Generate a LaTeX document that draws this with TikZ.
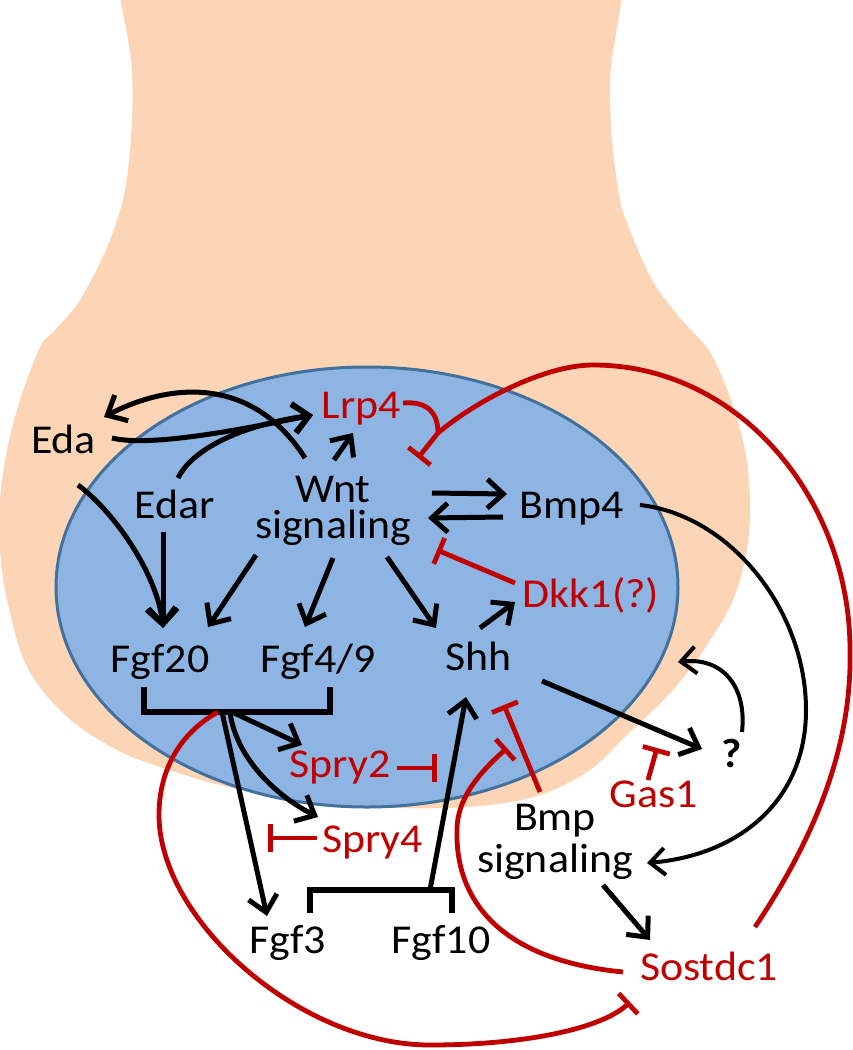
\documentclass[tikz,border=0pt]{standalone}
\usepackage{fontspec}
\setmainfont{Carlito}[FakeStretch=1.07]
\usetikzlibrary{arrows.meta,calc}
\definecolor{dkred}{RGB}{192,0,0}
\definecolor{peach}{RGB}{251,213,181}
\definecolor{epiblue}{RGB}{142,180,227}
\definecolor{epiline}{RGB}{65,113,156}
\begin{document}
\begin{tikzpicture}[x=1pt,y=-1pt,
	every node/.style={anchor=base,inner sep=1pt,font=\fontsize{41}{49}\selectfont},
	gene/.style={text=black},
	antag/.style={text=dkred},
	act/.style={-{Straight Barb[length=16pt,width=29pt]},line width=5pt},
	thinact/.style={-{Straight Barb[length=15pt,width=27pt]},line width=4pt},
	block/.style={dkred,-{Bar[width=28pt]},line width=4.8pt},
	redline/.style={dkred,line width=4.8pt},
	bracket/.style={line width=6pt}]
\useasboundingbox (0,0) rectangle (853,1050);
% tissue
\fill[peach] plot[smooth,tension=0.55] coordinates {(120,-2) (131,60) (132,120) (125,190) (108,245)
	(80,300) (55,330) (40,347) (20,400) (7,450) (0,500) (0,550) (7,600) (27,667) (67,717) (117,750)
	(160,767) (220,785) (300,800) (400,808) (480,806) (540,795) (590,770) (627,735) (673,690)
	(707,645) (733,600) (747,550) (750,500) (745,450) (731,400) (710,352) (680,318) (652,280)
	(630,230) (620,200) (612,140) (610,80) (615,40) (622,-2)} -- cycle;
\draw[fill=epiblue,draw=epiline,line width=3pt] (367,587) ellipse [x radius=311,y radius=220];
% genes
\node[gene] (eda) at (63.5,453) {Eda};
\node[gene] (edar) at (175,518) {Edar};
\node[antag] (lrp) at (361.5,418) {Lrp4};
\node[gene,align=center,font=\fontsize{41}{36}\selectfont] (wnt) at (333,538) {Wnt\\signaling};
\node[gene] (bmpfour) at (572,518) {Bmp4};
\node[antag] (dkk) at (591,607) {Dkk1(?)};
\node[gene] (fgftwenty) at (160,672) {Fgf20};
\node[gene] (fgffour) at (318,672) {Fgf4/9};
\node[gene] (shh) at (478.5,670) {Shh};
\node[antag] (spryb) at (340,777) {Spry2};
\node[antag] (spryd) at (372.5,852) {Spry4};
\node[gene] (fgfthree) at (287.5,953) {Fgf3};
\node[gene] (fgften) at (441,953) {Fgf10};
\node[gene,align=center,font=\fontsize{41}{42}\selectfont] (bmpsig) at (555,872) {Bmp\\signaling};
\node[antag] (gas) at (653.5,807) {Gas1};
\node[gene,font=\fontsize{41}{49}\selectfont\bfseries] (qm) at (731.5,767) {?};
\node[antag] (sostdc) at (709,980) {Sostdc1};
\coordinate (lrpjoin) at ($(lrp.base)+(76.5,15)$);
\coordinate (epiedge) at (678,662);
% upper part
\draw[act] ($(wnt.base)+(-28,-80)$) .. controls +(-55,-86) and +(61,-32) .. ($(eda.base)+(40.5,-36)$);
\draw[act] ($(eda.base)+(48.5,-15)$) .. controls +(40,10) and +(-60,12) .. ($(lrp.base)+(-48.5,-3)$);
\draw[act] ($(edar.base)+(3,-40)$) .. controls +(15,-30) and +(-70,10) .. ($(lrp.base)+(-48.5,-3)$);
\draw[act] ($(wnt.base)+(1,-78)$) -- ($(lrp.base)+(-8.5,15)$);
\draw[act] ($(eda.base)+(14.5,32)$) .. controls +(40,30) and +(-5,-50) .. ($(fgftwenty.base)+(3,-44)$);
\draw[act] ($(edar.base)+(-12,14)$) -- ($(fgftwenty.base)+(3,-44)$);
\draw[act] ($(wnt.base)+(-77,17)$) -- ($(fgftwenty.base)+(48,-45)$);
\draw[act] ($(wnt.base)+(0,20)$) -- ($(fgffour.base)+(-13,-45)$);
\draw[act] ($(wnt.base)+(54,19)$) -- ($(shh.base)+(-42.5,-42)$);
\draw[act] ($(wnt.base)+(99,-45)$) -- ($(bmpfour.base)+(-65,-24)$);
\draw[act] ($(bmpfour.base)+(-69,-1)$) -- ($(wnt.base)+(95,-20)$);
\draw[block] ($(dkk.base)+(-76,-24)$) -- ($(wnt.base)+(104,12)$);
\draw[act] ($(shh.base)+(1.5,-42)$) -- ($(dkk.base)+(-76,-5)$);
\draw[redline] ($(lrp.base)+(41.5,-15)$) .. controls +(25,-2) and +(0,-20) .. (lrpjoin);
\draw[block] ($(sostdc.base)+(46,-53)$) .. controls +(65,-97) and +(2,90) .. (850,650)
	.. controls +(0,-150) and +(147,0) .. (593,365)
	.. controls +(-50,0) and +(35,-30) .. (lrpjoin) -- ($(wnt.base)+(85,-80)$);
% right part
\draw[thinact] ($(bmpfour.base)+(68,-13)$) .. controls +(90,10) and +(0,-100) .. (806,710)
	.. controls +(0,90) and +(93,-8) .. ($(bmpsig.base)+(92,-9)$);
\draw[thinact] ($(qm.base)+(10.5,-35)$) .. controls +(5,-45) and +(45,-5) .. (epiedge);
\draw[act] ($(shh.base)+(63.5,11)$) -- ($(qm.base)+(-29.5,-18)$);
\draw[block] ($(gas.base)+(-5.5,-27)$) -- ($(gas.base)+(3.5,-59)$);
\draw[block] ($(bmpsig.base)+(-15,-80)$) -- ($(shh.base)+(25.5,35)$);
\draw[block] ($(sostdc.base)+(-86,-8)$) .. controls +(-123,-12) and +(-2,70) .. (457,830)
	.. controls +(0,-35) and +(-22,20) .. ($(shh.base)+(28.5,78)$);
\draw[act] ($(bmpsig.base)+(48,13)$) -- ($(sostdc.base)+(-59,-40)$);
% Fgf brackets
\draw[bracket] ($(fgftwenty.base)+(-16,15)$) -- ++(0,25) -| ($(fgffour.base)+(12,15)$);
\coordinate (brone) at ($(fgftwenty.base)+(58,40)$);
\draw[act] ($(brone)+(14,0)$) -- ($(spryb.base)+(-38,-32)$);
\draw[act] ($(brone)+(12,0)$) .. controls +(6,47) and +(-40,-20) .. ($(spryd.base)+(-54.5,-35)$);
\draw[act] ($(brone)+(4,0)$) -- ($(fgfthree.base)+(-20.5,-37)$);
\draw[block] (brone) .. controls +(-38,21) and +(0,-45) .. (159,815)
	.. controls +(0,105) and +(-130,0) .. (430,1045)
	.. controls +(90,0) and +(-30,28) .. ($(sostdc.base)+(-79,22)$);
\draw[block] ($(spryb.base)+(57,-9)$) -- ($(spryb.base)+(97,-9)$);
\draw[block] ($(spryd.base)+(-55.5,-14)$) -- ($(spryd.base)+(-104.5,-14)$);
\draw[bracket] ($(fgfthree.base)+(22.5,-40)$) -- ++(0,-23) -| ($(fgften.base)+(11,-40)$);
\coordinate (brtwo) at ($(fgften.base)+(-11,-63)$);
\draw[act] (brtwo) -- ($(shh.base)+(-12.5,27)$);
\end{tikzpicture}
\end{document}
